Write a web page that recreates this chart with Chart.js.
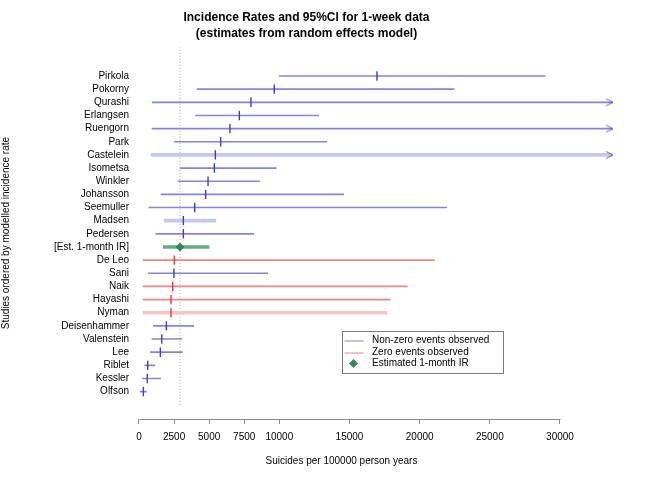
<!DOCTYPE html>
<html>
<head>
<meta charset="utf-8">
<script src="https://cdn.jsdelivr.net/npm/chart.js@4/dist/chart.umd.min.js"></script>
<style>
  body { margin: 0; background: #fff; }
</style>
</head>
<body>
<canvas id="chart" width="660" height="480"></canvas>
<script>
// studies, top to bottom as in the figure
const studyLabels = ['Pirkola', 'Pokorny', 'Qurashi', 'Erlangsen', 'Ruengorn', 'Park', 'Castelein',
    'Isometsa', 'Winkler', 'Johansson', 'Seemuller', 'Madsen', 'Pedersen', '[Est. 1-month IR]',
    'De Leo', 'Sani', 'Naik', 'Hayashi', 'Nyman', 'Deisenhammer', 'Valenstein', 'Lee', 'Riblet',
    'Kessler', 'Olfson'];
const rates = [16960, 9640, 7980, 7150, 6480, 5820, 5440, 5370, 4920, 4750, 3970, 3160, 3160, 2920,
    2520, 2490, 2400, 2280, 2280, 1950, 1620, 1520, 620, 590, 310];
const lowerCI = [9980, 4150, 950, 4040, 930, 2520, 860, 2940, 2800, 1570, 710, 1800, 1210, 1730,
    285, 660, 285, 285, 285, 1020, 930, 810, 410, 240, 70];
// null = upper limit runs off the right of the plot
const upperCI = [28950, 22450, null, 12800, null, 13380, null, 9780, 8600, 14590, 21930, 5470, 8170, 4990,
    21040, 9170, 19120, 17890, 17670, 3900, 3040, 3090, 1140, 1550, 520];
const zeroEventStudies = ['De Leo', 'Naik', 'Hayashi', 'Nyman'];
const pooledLabel = '[Est. 1-month IR]';
const xTickValues = [0, 2500, 5000, 7500, 10000, 15000, 20000, 25000, 30000];
const legendLabels = ['Non-zero events observed', 'Zero events observed', 'Estimated 1-month IR'];
const xTitle = 'Suicides per 100000 person years';

const X_MIN = -641, X_MAX = 33777, ARROW_AT = 33750;
const Y_MIN = -1.08, Y_MAX = 27.19;

const BLUE_LINE = '#8484da';
const BLUE_WIDE = '#c6c6f3';
const RED_LINE = '#ea8686';
const RED_WIDE = '#f6c4c4';
const BLUE_TICK = '#3c3cc9';
const RED_TICK = '#dc3b3b';
const GREEN_LINE = '#62ad80';
const GREEN = '#2e8b57';
const wideLines = ['Castelein', 'Madsen', 'Nyman'];
const FONT = '"Liberation Sans", Arial, sans-serif';

Chart.defaults.font.family = FONT;
Chart.defaults.color = '#000';

const n = studyLabels.length;
const rowOf = i => n - i;
const isZero = i => zeroEventStudies.includes(studyLabels[i]);
const pooledIndex = studyLabels.indexOf(pooledLabel);

let thin = [], wide = [], ticks = [], arrows = [];
studyLabels.forEach((name, i) => {
    if (i === pooledIndex) return;
    let seg = {y: rowOf(i), x: [lowerCI[i], upperCI[i] === null ? ARROW_AT : upperCI[i]], i: i};
    (wideLines.includes(name) ? wide : thin).push(seg);
    ticks.push({x: rates[i], y: rowOf(i), i: i});
    if (upperCI[i] === null) arrows.push({x: ARROW_AT, y: rowOf(i), i: i});
});

function chevron(color) {
    let c = document.createElement('canvas');
    c.width = 16;
    c.height = 12;
    let g = c.getContext('2d');
    g.strokeStyle = color;
    g.lineWidth = 1;
    g.beginPath();
    g.moveTo(1.5, 2.5);
    g.lineTo(8, 6);
    g.lineTo(1.5, 9.5);
    g.stroke();
    return c;
}

const segColour = (zeroCol, otherCol) => ctx => (ctx.raw && isZero(ctx.raw.i)) ? zeroCol : otherCol;

const rAxis = {
    id: 'rAxis',
    afterDraw(chart) {
        const {ctx, chartArea, scales: {x, y}} = chart;
        ctx.save();
        ctx.strokeStyle = '#8a8a8a';
        ctx.lineWidth = 1;
        let yy = Math.round(chartArea.bottom) + 0.5;
        ctx.beginPath();
        ctx.moveTo(Math.round(x.getPixelForValue(xTickValues[0])) + 0.5, yy);
        ctx.lineTo(Math.round(x.getPixelForValue(xTickValues[xTickValues.length - 1])) + 0.5, yy);
        ctx.stroke();

        // x title, centred on the full plot region as R does
        ctx.fillStyle = '#000';
        ctx.font = '10px ' + FONT;
        ctx.textAlign = 'center';
        ctx.textBaseline = 'middle';
        ctx.fillText(xTitle, x.getPixelForValue(14430), 461.5);

        // legend box
        let left = Math.round(x.getPixelForValue(14450)) + 0.5;
        let top = Math.round(y.getPixelForValue(5.63)) + 0.5;
        ctx.strokeStyle = '#7a7a7a';
        ctx.strokeRect(left, top, 161, 42);
        let rows = [top + 9, top + 21, top + 32];
        [BLUE_LINE, RED_LINE].forEach((col, k) => {
            ctx.strokeStyle = col;
            ctx.beginPath();
            ctx.moveTo(left + 2, Math.round(rows[k]));
            ctx.lineTo(left + 21, Math.round(rows[k]));
            ctx.stroke();
        });
        ctx.fillStyle = GREEN;
        let cx = left + 11, cy = rows[2], r = 4.5;
        ctx.beginPath();
        ctx.moveTo(cx, cy - r);
        ctx.lineTo(cx + r, cy);
        ctx.lineTo(cx, cy + r);
        ctx.lineTo(cx - r, cy);
        ctx.closePath();
        ctx.fill();
        ctx.fillStyle = '#000';
        ctx.textAlign = 'left';
        legendLabels.forEach((t, k) => ctx.fillText(t, left + 29.5, rows[k]));
        ctx.restore();
    },
};

new Chart(document.getElementById('chart'), {
    type: 'scatter',
    data: {
        datasets: [
            {
                type: 'scatter',
                data: [{x: rates[pooledIndex], y: rowOf(pooledIndex)}],
                pointStyle: 'rectRot',
                radius: 4.5,
                backgroundColor: GREEN,
                borderWidth: 0,
            },
            {
                type: 'scatter',
                data: ticks,
                pointStyle: 'line',
                rotation: 90,
                radius: 4.7,
                borderWidth: 1.4,
                borderColor: segColour(RED_TICK, BLUE_TICK),
            },
            {
                type: 'scatter',
                data: arrows,
                pointStyle: chevron('#5a5ad0'),
                radius: 6,
            },
            {
                type: 'bar',
                indexAxis: 'y',
                grouped: false,
                barThickness: 1,
                data: thin,
                backgroundColor: segColour(RED_LINE, BLUE_LINE),
            },
            {
                type: 'bar',
                indexAxis: 'y',
                grouped: false,
                barThickness: 3,
                data: wide,
                backgroundColor: segColour(RED_WIDE, BLUE_WIDE),
            },
            {
                type: 'bar',
                indexAxis: 'y',
                grouped: false,
                barThickness: 3,
                data: [{y: rowOf(pooledIndex), x: [lowerCI[pooledIndex], upperCI[pooledIndex]]}],
                backgroundColor: GREEN_LINE,
            },
            {
                type: 'line',
                data: [{x: rates[pooledIndex], y: 0}, {x: rates[pooledIndex], y: Y_MAX}],
                borderColor: '#a0a0a0',
                borderWidth: 1,
                borderDash: [1, 2],
                pointRadius: 0,
            },
        ],
    },
    options: {
        responsive: false,
        animation: false,
        layout: {padding: {top: 5, right: 47, bottom: 0, left: 0}},
        plugins: {
            legend: {display: false},
            tooltip: {enabled: false},
            title: {
                display: true,
                text: ['Incidence Rates and 95%CI for 1-week data', '(estimates from random effects model)'],
                font: {size: 12, weight: 'bold', lineHeight: 1.3},
                color: '#000',
                padding: {top: 5, bottom: 6},
            },
        },
        scales: {
            x: {
                type: 'linear',
                min: X_MIN,
                max: X_MAX,
                offset: false,
                afterFit: s => { s.height = 61; },
                afterBuildTicks: s => { s.ticks = xTickValues.map(v => ({value: v})); },
                ticks: {font: {size: 10}, color: '#000', padding: 7, maxRotation: 0, autoSkip: false,
                    callback: v => String(v)},
                grid: {drawOnChartArea: false, tickLength: 5, color: '#8a8a8a', offset: false},
                border: {display: false},
                title: {display: false},
            },
            y: {
                type: 'linear',
                min: Y_MIN,
                max: Y_MAX,
                offset: false,
                afterFit: s => { s.width = 130; },
                afterBuildTicks: s => { s.ticks = studyLabels.map((_, i) => ({value: rowOf(i)})); },
                ticks: {font: {size: 10}, color: '#000', padding: 1, autoSkip: false,
                    callback: v => studyLabels[n - v]},
                grid: {display: false, drawTicks: false, offset: false},
                border: {display: false},
                title: {display: true, text: 'Studies ordered by modelled incidence rate', font: {size: 10},
                    color: '#000', padding: 0},
            },
        },
    },
    plugins: [rAxis],
});
</script>
</body>
</html>
